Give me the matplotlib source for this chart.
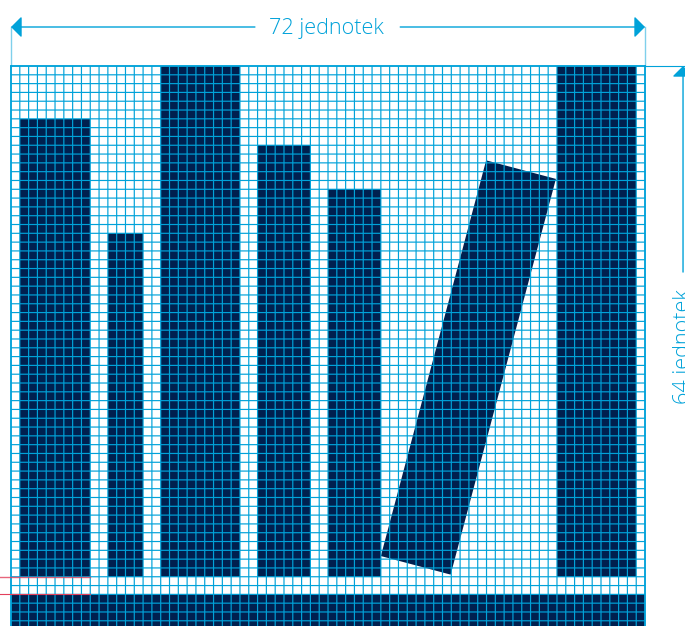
import matplotlib
matplotlib.use("Agg")
import matplotlib.pyplot as plt
from matplotlib.patches import Rectangle
from matplotlib.transforms import Affine2D
import numpy as np

# grid size in units
GRID_W = 72
GRID_H = 64

# upright bars, in grid units, y counted from the bottom of the grid
bar_left = [1, 11, 17, 28, 36, 62]
bar_width = [8, 4, 9, 6, 6, 9]
bar_bottom = [6, 6, 6, 6, 6, 6]
bar_top = [58, 45, 64, 55, 50, 64]

# base strip
base_left = 0
base_width = 72
base_height = 4

# leaning bar: lower left corner, size, lean in degrees
lean_corner = (42.0, 8.35)
lean_width = 8.2
lean_height = 46.5
lean_angle = -14.9

label_x = "72 jednotek"
label_y = "64 jednotek"

NAVY = "#00204f"
BLUE = "#00a2d9"
RED = "#e2405c"

PX = 8.806  # pixels per unit
W_PX, H_PX = 685, 626
X0_PX, Y0_PX = 11, 66

fig = plt.figure(figsize=(W_PX / 100, H_PX / 100), dpi=100)
ax = fig.add_axes([0, 0, 1, 1])
ax.set_xlim(-X0_PX / PX, (W_PX - X0_PX) / PX)
ax.set_ylim(GRID_H - (H_PX - Y0_PX) / PX, GRID_H + Y0_PX / PX)
ax.axis("off")

for l, w, b, t in zip(bar_left, bar_width, bar_bottom, bar_top):
    ax.add_patch(Rectangle((l, b), w, t - b, fc=NAVY, ec="none", zorder=2))
ax.add_patch(Rectangle((base_left, 0), base_width, base_height, fc=NAVY, ec="none", zorder=2))

rot = Affine2D().rotate_deg_around(lean_corner[0], lean_corner[1], lean_angle) + ax.transData
ax.add_patch(Rectangle(lean_corner, lean_width, lean_height, fc=NAVY, ec="none", zorder=2, transform=rot))

# grid goes over the bars
vl = ax.vlines(np.arange(GRID_W + 1), 0, GRID_H, color=BLUE, lw=0.85, zorder=3)
hl = ax.hlines(np.arange(GRID_H + 1), 0, GRID_W, color=BLUE, lw=0.85, zorder=3)
vl.set_snap(False)
hl.set_snap(False)
ax.plot([0, 0], [0, GRID_H], color=BLUE, lw=1.2, zorder=3)
ax.plot([GRID_W, GRID_W], [0, GRID_H], color=BLUE, lw=1.2, zorder=3)
ax.plot([0, GRID_W], [GRID_H, GRID_H], color=BLUE, lw=1.2, zorder=3)

# red guides at the left
ax.plot([-X0_PX / PX, 9], [6, 6], color=RED, lw=1.0, alpha=0.8, zorder=4)
ax.plot([-X0_PX / PX, 9], [4, 4], color=RED, lw=0.8, zorder=4)

# dimension lines
DIM_Y = GRID_H + (Y0_PX - 27) / PX
DIM_X = GRID_W + (683 - 645) / PX
head = dict(arrowstyle="-|>,head_length=6.5,head_width=6.5", mutation_scale=1,
            color=BLUE, lw=1.0, shrinkA=0, shrinkB=0, clip_on=False)

ax.annotate("", xy=(0, DIM_Y), xytext=(27.7, DIM_Y), arrowprops=head)
ax.annotate("", xy=(GRID_W, DIM_Y), xytext=(44.2, DIM_Y), arrowprops=head)
ax.annotate("", xy=(DIM_X, GRID_H), xytext=(DIM_X, 40.6), arrowprops=head)
ax.annotate("", xy=(DIM_X, 0), xytext=(DIM_X, 23.6), arrowprops=head)

ax.plot([0, 0], [GRID_H, DIM_Y], color=BLUE, lw=1.0, alpha=0.5, zorder=1)
ax.plot([GRID_W, GRID_W], [GRID_H, DIM_Y], color=BLUE, lw=1.0, alpha=0.5, zorder=1)
ax.plot([GRID_W, DIM_X + 1], [GRID_H, GRID_H], color=BLUE, lw=0.8, zorder=1)

ax.text(35.8, DIM_Y - 0.2, label_x, color=BLUE, fontsize=15.6, family="Open Sans", fontweight="light",
        ha="center", va="center")
ax.text(DIM_X + 0.05, 32.1, label_y, color=BLUE, fontsize=15.6, family="Open Sans", fontweight="light",
        ha="center", va="center", rotation=90, clip_on=False)

fig.savefig("out.png", dpi=100)
